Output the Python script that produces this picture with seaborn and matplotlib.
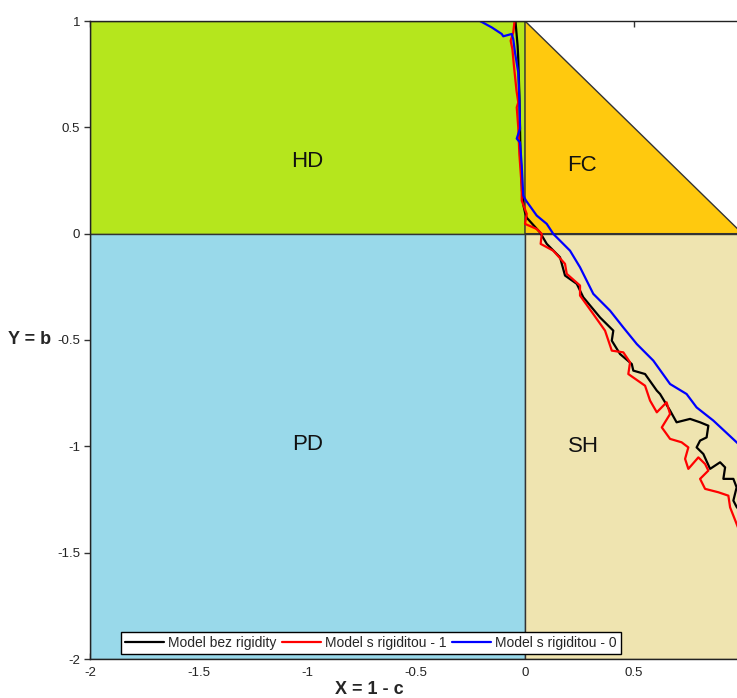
import numpy as np
import pandas as pd
import matplotlib
matplotlib.use('Agg')
import matplotlib.pyplot as plt
import seaborn as sns

# --- data ---
black_x = [-0.044, -0.034, -0.031, -0.025, -0.021, -0.014, -0.007, 0.0, 0.008, 0.069, 0.100,
           0.161, 0.184, 0.238, 0.268, 0.345, 0.406, 0.399, 0.437, 0.491, 0.498, 0.552,
           0.606, 0.621, 0.667, 0.697, 0.759, 0.805, 0.843, 0.835, 0.805, 0.789, 0.820,
           0.851, 0.897, 0.920, 0.912, 0.958, 0.973, 0.958, 0.973, 1.01]
black_y = [1.0, 0.884, 0.823, 0.625, 0.390, 0.202, 0.132, 0.100, 0.075, 0.006, -0.048,
           -0.111, -0.197, -0.236, -0.299, -0.394, -0.456, -0.503, -0.566, -0.613, -0.644, -0.660,
           -0.738, -0.754, -0.832, -0.887, -0.871, -0.887, -0.903, -0.958, -0.973, -1.005, -1.036,
           -1.106, -1.075, -1.099, -1.153, -1.153, -1.193, -1.255, -1.285, -1.33]

red_x = [-0.048, -0.054, -0.066, -0.058, -0.051, -0.039, -0.031, -0.038, -0.031, -0.026,
         -0.015, -0.015, 0.008, 0.0, 0.054, 0.077, 0.072, 0.130, 0.184, 0.192, 0.253, 0.253,
         0.314, 0.368, 0.399, 0.452, 0.483, 0.475, 0.552, 0.575, 0.606, 0.651, 0.667, 0.629,
         0.667, 0.720, 0.751, 0.736, 0.751, 0.797, 0.828, 0.843, 0.805, 0.828, 0.889, 0.935,
         0.943, 0.973, 0.998]
red_y = [1.0, 0.946, 0.907, 0.868, 0.790, 0.672, 0.617, 0.594, 0.500, 0.375,
         0.218, 0.155, 0.093, 0.046, 0.022, -0.001, -0.048, -0.080, -0.142, -0.189, -0.244, -0.291,
         -0.378, -0.456, -0.550, -0.558, -0.605, -0.660, -0.715, -0.785, -0.840, -0.793, -0.848, -0.911,
         -0.965, -0.981, -1.005, -1.059, -1.106, -1.052, -1.083, -1.114, -1.153, -1.200, -1.216, -1.232,
         -1.287, -1.365, -1.43]

blue_x = [-0.207, -0.153, -0.107, -0.100, -0.061, -0.054, -0.046, -0.031, -0.026, -0.023,
          -0.038, -0.023, -0.015, -0.008, 0.005, 0.054, 0.100, 0.130, 0.207, 0.253, 0.314,
          0.391, 0.452, 0.514, 0.590, 0.667, 0.743, 0.789, 0.866, 0.973, 1.01]
blue_y = [1.0, 0.970, 0.939, 0.928, 0.939, 0.915, 0.852, 0.758, 0.633, 0.494,
          0.447, 0.429, 0.320, 0.179, 0.155, 0.085, 0.046, -0.001, -0.080, -0.158, -0.283,
          -0.362, -0.441, -0.519, -0.597, -0.707, -0.754, -0.817, -0.879, -0.981, -1.015]

series_names = ['Model bez rigidity', 'Model s rigiditou - 1', 'Model s rigiditou - 0']
series_colors = ['black', 'red', 'blue']

# game regions
region_names = ['HD', 'FC', 'PD', 'SH']
region_x = [[-2, 0, 0, -2], [0, 1, 0], [-2, 0, 0, -2], [0, 1, 1, 0]]
region_y = [[0, 0, 1, 1], [0, 0, 1], [-2, -2, 0, 0], [-2, -2, 0, 0]]
region_colors = ['#b5e61d', '#ffc90e', '#99d9ea', '#efe4b0']
label_pos = [(-1.0, 0.34), (0.26, 0.32), (-1.0, -0.99), (0.27, -1.0)]

xticks = [-2, -1.5, -1, -0.5, 0, 0.5]
yticks = [-2, -1.5, -1, -0.5, 0, 0.5, 1]

frames = []
for name, xs, ys in zip(series_names, [black_x, red_x, blue_x], [black_y, red_y, blue_y]):
    frames.append(pd.DataFrame({'x': xs, 'y': ys, 'model': name}))
df = pd.concat(frames, ignore_index=True)

sns.set_theme(style='white')
plt.rcParams['font.family'] = ['Liberation Sans', 'DejaVu Sans']

fig = plt.figure(figsize=(7.37, 6.98), dpi=100)
ax = fig.add_axes([90 / 737, 39 / 698, 652.5 / 737, 638 / 698])

for xs, ys, c in zip(region_x, region_y, region_colors):
    ax.fill(xs, ys, facecolor=c, edgecolor='#333333', linewidth=1, zorder=1)
for name, (tx, ty) in zip(region_names, label_pos):
    ax.text(tx, ty, name, fontsize=16, ha='center', va='center', color='#111111', zorder=2)

sns.lineplot(data=df, x='x', y='y', hue='model', units='model', estimator=None, sort=False,
             palette=dict(zip(series_names, series_colors)), linewidth=1.6, ax=ax, zorder=3,
             legend=True)

ax.set_xlim(-2, 1)
ax.set_ylim(-2, 1)
ax.set_xticks(xticks)
ax.set_yticks(yticks)
ax.set_xticklabels([f'{v:g}' for v in xticks], fontsize=9.5, color='#222222')
ax.set_yticklabels([f'{v:g}' for v in yticks], fontsize=9.5, color='#222222')
ax.tick_params(axis='x', direction='in', length=4, width=1, color='#333333',
               top=True, bottom=True, pad=6)
ax.tick_params(axis='y', left=True, right=True, length=4, width=1, color='#333333', pad=3)
ax.tick_params(axis='y', which='major', direction='out')
for s in ax.spines.values():
    s.set_color('#222222')
    s.set_linewidth(1)
    s.set_zorder(4)

ax.set_xlabel('X = 1 - c', fontsize=13, fontweight='bold', labelpad=2)
ax.xaxis.set_label_coords(0.428, -0.035)
ax.set_ylabel('Y = b', fontsize=13, fontweight='bold', rotation=0, ha='center', va='center')
ax.yaxis.set_label_coords(-0.092, 0.5)

handles, labels = ax.get_legend_handles_labels()
leg = ax.legend(handles, labels, loc='lower center', bbox_to_anchor=(0.431, 0.008), ncol=3,
                fontsize=10, frameon=True, fancybox=False, framealpha=1, edgecolor='black',
                borderpad=0.3, columnspacing=0.4, handletextpad=0.3, handlelength=2.8,
                borderaxespad=0)
leg.get_frame().set_linewidth(1)
leg.set_zorder(5)

fig.savefig('out.png', dpi=100)
